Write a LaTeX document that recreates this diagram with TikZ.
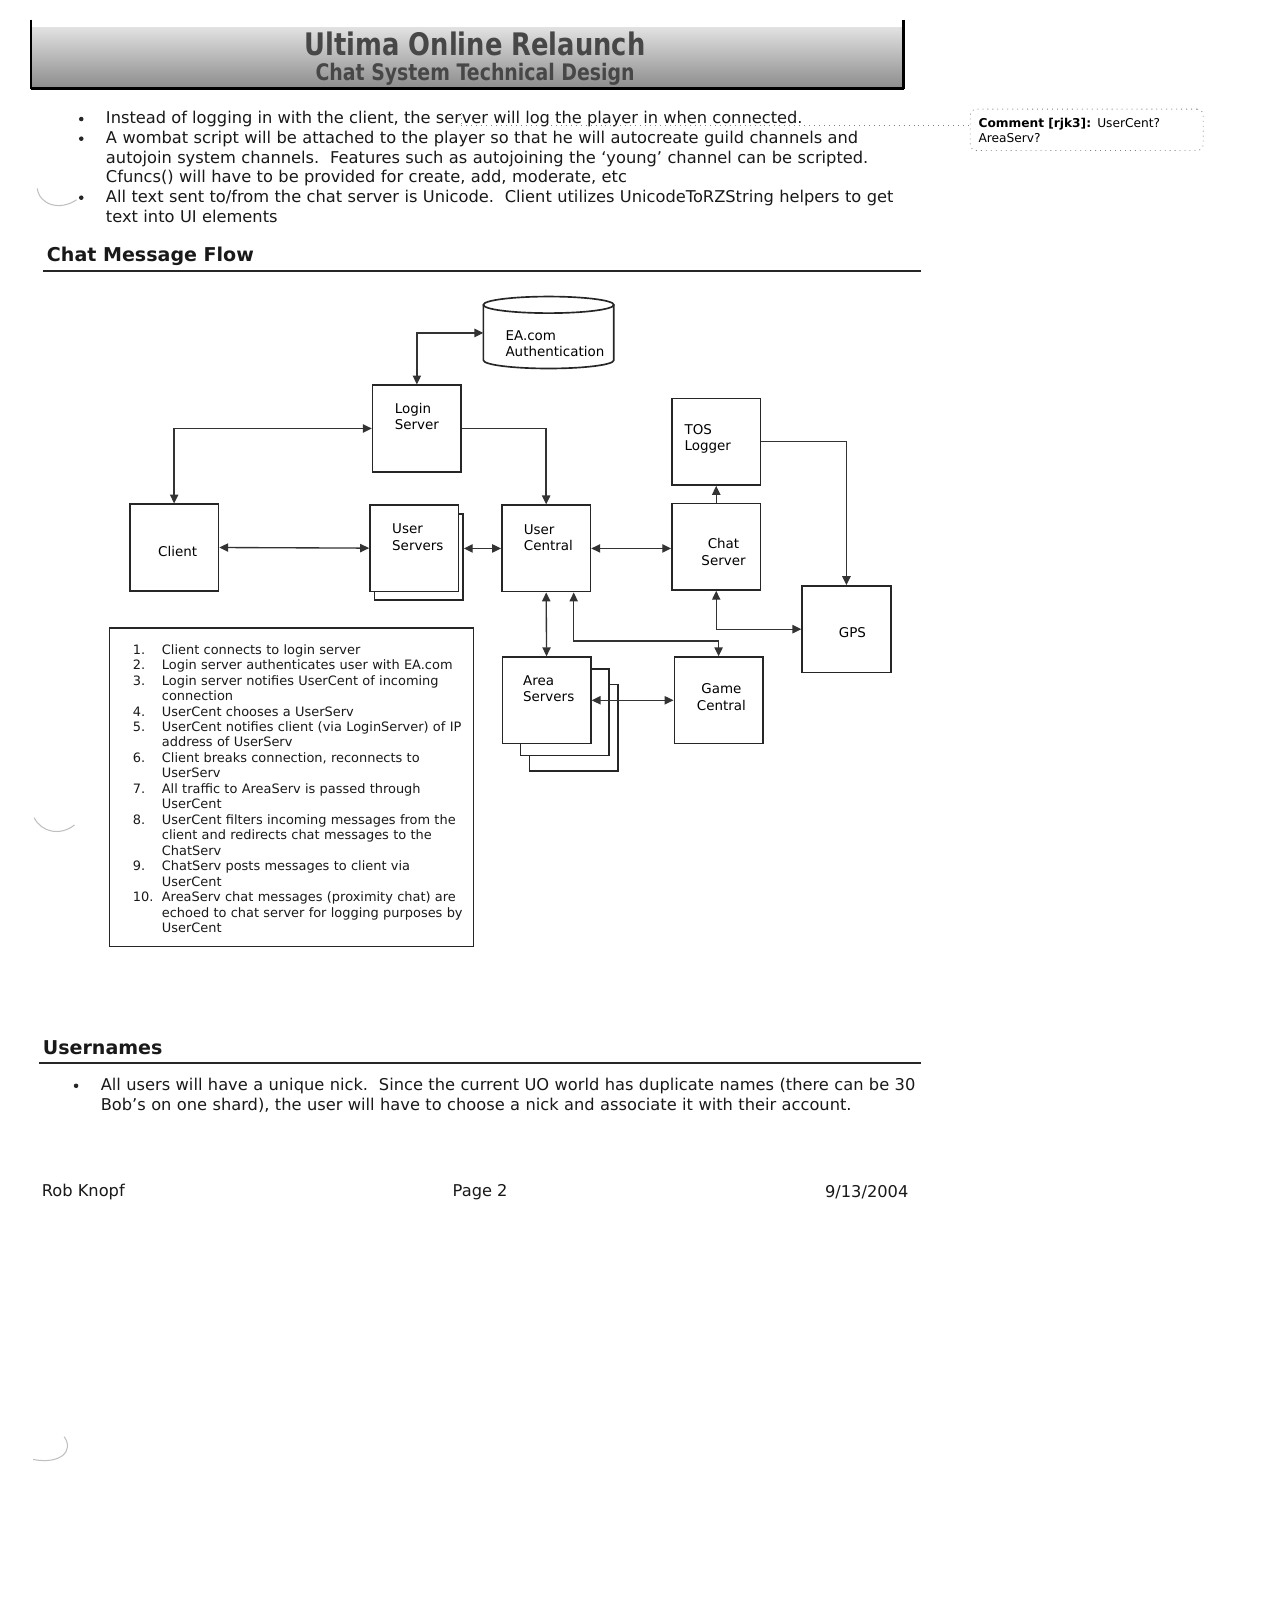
\documentclass[tikz,border=0pt]{standalone}
\usepackage{fontspec}
\setmainfont{DejaVu Sans}
\newfontfamily\hdfont[FakeStretch=0.83]{DejaVu Sans}
\usetikzlibrary{arrows.meta}

\tikzset{
  blk/.style={draw=black!85,fill=white,line width=.8pt,anchor=north west,inner sep=0pt,minimum width=42.75pt,minimum height=41.75pt},
  lbl/.style={anchor=base west,inner sep=0pt,text width=60pt,align=left,font=\fontsize{6.5}{8}\selectfont},
  body/.style={anchor=base west,inner sep=0pt,text=black!90,font=\fontsize{7.85}{9.5}\selectfont},
  para/.style={body,text width=470pt,align=left},
  hd/.style={anchor=base west,inner sep=0pt,text=black!90,font=\bfseries\fontsize{9.2}{11}\selectfont},
  link/.style={draw=black!80,line width=.65pt},
  onearr/.style={-{Triangle[length=4.3pt,width=4pt]}},
  twoarr/.style={{Triangle[length=4.3pt,width=4pt]}-{Triangle[length=4.3pt,width=4pt]}},
  scanmark/.style={draw=black!25,line width=.5pt}
}

\begin{document}
\begin{tikzpicture}[x=.5pt,y=-.5pt]
\fill[white] (0,0) rectangle (1232,1568);
\useasboundingbox (0,0) rectangle (1232,1568);

% banner
\shade[top color=black!12,bottom color=black!45] (30,27) rectangle (873,85);
\draw[line width=.8pt] (30,19) -- (30,86);
\draw[line width=1.1pt] (873,19) -- (873,86);
\draw[line width=1.4pt] (30,85.5) -- (873,85.5);
\node[anchor=base,inner sep=0pt,text=black!72,font=\hdfont\bfseries\fontsize{15}{18}\selectfont] (title) at (459,54) {Ultima Online Relaunch};
\node[anchor=base,inner sep=0pt,text=black!72,font=\hdfont\bfseries\fontsize{11}{13}\selectfont] (subtitle) at (459,78) {Chat System Technical Design};

% bullets
\fill[black!85] (78.5,115) circle[radius=2.2];
\fill[black!85] (78.5,134) circle[radius=2.2];
\fill[black!85] (78.5,191) circle[radius=2.2];
\node[body] (b1a) at (102,119.5) {Instead of logging in with the client, the ser};
\node[body,anchor=base west] (b1b) at (b1a.base east) {ver will log the player in when connected.};
\node[para] (b2) at (102,138.5) {A wombat script will be attached to the player so that he will autocreate guild channels and\\
autojoin system channels.\ \ Features such as autojoining the ‘young’ channel can be scripted.\\
Cfuncs() will have to be provided for create, add, moderate, etc};
\node[para] (b3) at (102,195.5) {All text sent to/from the chat server is Unicode.\ \ Client utilizes UnicodeToRZString helpers to get\\
text into UI elements};

% comment balloon
\node[draw=black!50,dotted,rounded corners=3pt,anchor=north west,inner sep=0pt,minimum width=112.5pt,minimum height=20pt] (cmt) at (937,105) {};
\node[anchor=base west,inner sep=0pt,text width=105pt,align=left,font=\fontsize{5.9}{7.5}\selectfont] (cmtT) at (945,123) {\textbf{Comment [rjk3]:} UserCent?\\AreaServ?};
\draw[black!50,dotted] (b1b.base west) -- ++(0,-13);
\draw[black!50,dotted] ([yshift=-1pt]b1b.base west) -- ([yshift=-1pt]b1b.base west -| cmt.west);

% scan marks in the margin
\draw[scanmark] (36,182) .. controls (38,198) and (58,204) .. (74,193);
\draw[scanmark] (33,790) .. controls (40,804) and (58,808) .. (72,797);
\draw[scanmark] (62,1388) .. controls (72,1402) and (58,1415) .. (32,1410);

% chat message flow
\node[hd] (flowhd) at (45,253) {Chat Message Flow};
\draw[line width=1pt,black!85] (42,262) -- (890,262);

\node[inner sep=0pt,anchor=north west,minimum width=63pt,minimum height=34.75pt] (ea) at (467,286.5) {};
\draw[line width=.8pt,black!85] (467,294.5) -- (467,348) arc[start angle=180,end angle=0,x radius=63,y radius=8] -- (593,294.5);
\draw[line width=.8pt,black!85] (530,294.5) ellipse[x radius=63,y radius=8];
\node[lbl,text width=70pt] (eaT) at (488,328.5) {EA.com\\Authentication};

\node[blk] (login) at (359.2,371.4) {};
\node[blk] (tos) at (648.4,384.3) {};
\node[blk] (client) at (124.7,486.4) {};
\node[blk] (usrsrv2) at (361,495.5) {};
\node[blk] (usrsrv) at (356.6,487) {};
\node[blk] (usrcent) at (484.1,487.3) {};
\node[blk] (chat) at (648.4,485.7) {};
\node[blk] (gps) at (774.2,565.3) {};
\node[blk] (area3) at (510.8,660.5) {};
\node[blk] (area2) at (502,645.5) {};
\node[blk] (area) at (484.5,634) {};
\node[blk] (game) at (650.7,634) {};

\node[lbl] (loginT) at (381,399.4) {Login\\Server};
\node[lbl] (tosT) at (661,419.4) {TOS\\Logger};
\node[lbl] (clientT) at (152.4,537.3) {Client};
\node[lbl] (usrsrvT) at (378.5,515.4) {User\\Servers};
\node[lbl] (usrcentT) at (505.7,516) {User\\Central};
\node[lbl,anchor=base,align=center] (chatT) at (699,529.9) {Chat\\Server};
\node[lbl] (gpsT) at (810,616.2) {GPS};
\node[lbl] (areaT) at (505,662) {Area\\Servers};
\node[lbl,anchor=base,align=center] (gameT) at (697,670) {Game\\Central};

\draw[link,twoarr] (login.north) |- (ea.west);
\draw[link,twoarr] (client.north) |- (login.west);
\draw[link,onearr] (login.east) -| (usrcent.north);
\draw[link,twoarr] (client.east) -- (usrsrv.west);
\draw[link,twoarr] (usrsrv2.east |- usrcent.west) -- (usrcent.west);
\draw[link,twoarr] (usrcent.east) -- (usrcent.east -| chat.west);
\draw[link,onearr] (chat.north) -- (tos.south);
\draw[link,onearr] (tos.east) -| (gps.north);
\draw[link,twoarr] (chat.south) |- (gps.west);
\draw[link,twoarr] (usrcent.south) -- (area.north);
\draw[link,twoarr] ([xshift=13.3pt]usrcent.south) |- ([yshift=7.3pt]game.north) -- (game.north);
\draw[link,twoarr] (area.east) -- (game.west);

% numbered steps
\node[draw=black!85,line width=.6pt,anchor=north west,inner sep=0pt,minimum width=176pt,minimum height=154pt] (steps) at (105,606) {};
\node[anchor=base west,inner sep=0pt,text width=172pt,align=left,text=black!90,font=\fontsize{6.25}{7.47}\selectfont] (stepsT) at (128,632) {%
\makebox[14pt][l]{1.}Client connects to login server\\
\makebox[14pt][l]{2.}Login server authenticates user with EA.com\\
\makebox[14pt][l]{3.}Login server notifies UserCent of incoming\\
\hspace*{14pt}connection\\
\makebox[14pt][l]{4.}UserCent chooses a UserServ\\
\makebox[14pt][l]{5.}UserCent notifies client (via LoginServer) of IP\\
\hspace*{14pt}address of UserServ\\
\makebox[14pt][l]{6.}Client breaks connection, reconnects to\\
\hspace*{14pt}UserServ\\
\makebox[14pt][l]{7.}All traffic to AreaServ is passed through\\
\hspace*{14pt}UserCent\\
\makebox[14pt][l]{8.}UserCent filters incoming messages from the\\
\hspace*{14pt}client and redirects chat messages to the\\
\hspace*{14pt}ChatServ\\
\makebox[14pt][l]{9.}ChatServ posts messages to client via\\
\hspace*{14pt}UserCent\\
\makebox[14pt][l]{10.}AreaServ chat messages (proximity chat) are\\
\hspace*{14pt}echoed to chat server for logging purposes by\\
\hspace*{14pt}UserCent};

% usernames
\node[hd] (namehd) at (41,1019) {Usernames};
\draw[line width=1pt,black!85] (38,1027) -- (890,1027);
\fill[black!85] (73.5,1049) circle[radius=2.2];
\node[para] (u1) at (97,1053.4) {All users will have a unique nick.\ \ Since the current UO world has duplicate names (there can be 30\\
Bob’s on one shard), the user will have to choose a nick and associate it with their account.};

% footer
\node[body] (auth) at (40,1155.5) {Rob Knopf};
\node[body] (pg) at (437,1156.4) {Page 2};
\node[body,anchor=base east] (date) at (878,1157) {9/13/2004};
\end{tikzpicture}
\end{document}
